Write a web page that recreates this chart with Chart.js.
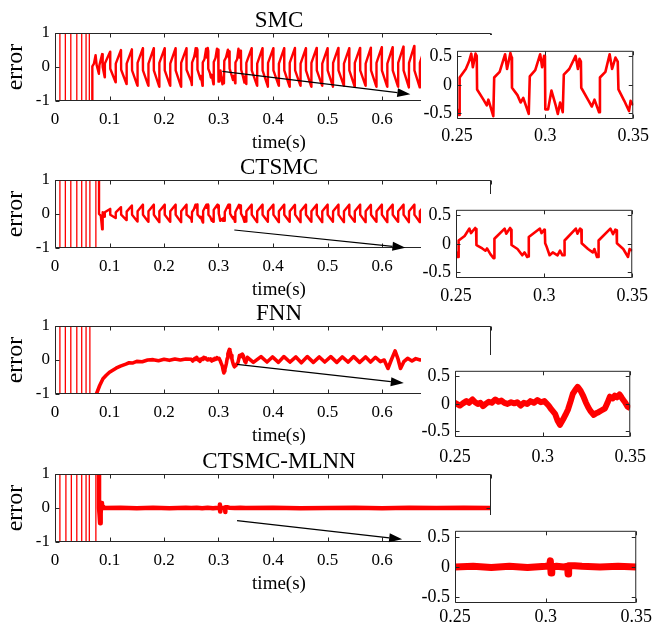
<!DOCTYPE html>
<html>
<head>
<meta charset="utf-8">
<script src="https://cdn.jsdelivr.net/npm/chart.js@4.4.0/dist/chart.umd.min.js"></script>
<style>
  html, body { margin: 0; padding: 0; background: #fff; overflow: hidden; }
  #fig { position: relative; width: 655px; height: 627px; }
  #fig canvas { position: absolute; }
  #fig canvas.zoom { background: #fff; }
</style>
</head>
<body>
<div id="fig"></div>
<script>
// start-up chatter runs far outside the +/-1 band and gets clipped
const SAT = 20;

const titles = ['SMC', 'CTSMC', 'FNN', 'CTSMC-MLNN'];
const mainXTicks = [0, 0.1, 0.2, 0.3, 0.4, 0.5, 0.6, 0.7, 0.8];
const mainYTicks = [-1, 0, 1];
const zoomXTicks = [0.25, 0.3, 0.35];
const zoomYTicks = [-0.5, 0, 0.5];

// [time (s), error]
const smcErr = [
  [0, 0], [0, SAT], [0.009, SAT], [0.009, -SAT], [0.019, -SAT], [0.019, SAT], [0.029, SAT], [0.029, -SAT],
  [0.040, -SAT], [0.040, SAT], [0.049, SAT], [0.049, -SAT], [0.057, -SAT], [0.057, SAT], [0.063, SAT], [0.063, -SAT],
  [0.068, -SAT], [0.0685, 0.02], [0.0715, 0.1], [0.0745, 0.35], [0.0765, 0.05], [0.0805, -0.2], [0.0815, 0.05],
  [0.0865, 0.38], [0.0875, 0.0], [0.0912, -0.3],
  [0.0915, 0.1], [0.1011, 0.45], [0.1014, -0.05], [0.1112, -0.45],
  [0.1115, 0.1], [0.1211, 0.5], [0.1214, -0.08], [0.1312, -0.5],
  [0.1315, 0.1], [0.1411, 0.52], [0.1414, -0.1], [0.1512, -0.55],
  [0.1515, 0.12], [0.1611, 0.55], [0.1614, -0.1], [0.1712, -0.55],
  [0.1715, 0.1], [0.1811, 0.55], [0.1814, -0.1], [0.1912, -0.58],
  [0.1915, 0.12], [0.2011, 0.55], [0.2014, -0.1], [0.2112, -0.55],
  [0.2115, 0.1], [0.2211, 0.55], [0.2214, -0.1], [0.2312, -0.58],
  [0.2315, 0.12], [0.2411, 0.55], [0.2414, -0.08],
  [0.25, -0.43], [0.2509, -0.53], [0.2513, -0.53], [0.2515, 0.13], [0.2550, 0.28], [0.2568, 0.41], [0.2581, 0.55],
  [0.2590, 0.31], [0.2605, 0.55], [0.2612, 0.51], [0.2614, -0.08], [0.2650, -0.26], [0.2669, -0.36], [0.2678, -0.26],
  [0.2706, -0.55], [0.2711, 0.13], [0.2742, 0.23], [0.2773, 0.54], [0.2784, 0.28], [0.2803, 0.56], [0.2810, 0.48],
  [0.2812, -0.05], [0.2843, -0.18], [0.2861, -0.31], [0.2876, -0.23], [0.2907, -0.51], [0.2913, 0.15], [0.2944, 0.26],
  [0.2972, 0.54], [0.2983, 0.31], [0.2994, 0.51], [0.2999, 0.48], [0.3001, -0.43], [0.3017, -0.43], [0.3036, -0.10],
  [0.3060, -0.36], [0.3072, -0.51], [0.3085, -0.31], [0.3100, -0.48], [0.3106, 0.18], [0.3137, 0.28], [0.3173, 0.51],
  [0.3186, 0.28], [0.3195, 0.46], [0.3203, 0.41], [0.3205, -0.05], [0.3247, -0.28], [0.3265, -0.38], [0.3280, -0.26],
  [0.3306, -0.48], [0.3311, 0.13], [0.3342, 0.23], [0.3366, 0.54], [0.3380, 0.28], [0.3399, 0.48], [0.3412, 0.41],
  [0.3416, -0.08], [0.3449, -0.28], [0.3476, -0.46], [0.3485, -0.28], [0.3500, -0.36],
  [0.3508, -0.5], [0.3511, 0.12], [0.3607, 0.55], [0.3610, -0.1],
  [0.3707, -0.55], [0.3710, 0.1], [0.3806, 0.55], [0.3809, -0.1],
  [0.3906, -0.58], [0.3909, 0.12], [0.4005, 0.55], [0.4008, -0.1],
  [0.4105, -0.55], [0.4108, 0.1], [0.4204, 0.55], [0.4207, -0.1],
  [0.4304, -0.58], [0.4307, 0.12], [0.4403, 0.56], [0.4406, -0.1],
  [0.4503, -0.55], [0.4506, 0.1], [0.4602, 0.55], [0.4605, -0.1],
  [0.4702, -0.58], [0.4705, 0.12], [0.4801, 0.56], [0.4804, -0.1],
  [0.4901, -0.55], [0.4904, 0.1], [0.5000, 0.55], [0.5003, -0.1],
  [0.5100, -0.58], [0.5103, 0.12], [0.5199, 0.56], [0.5202, -0.1],
  [0.5299, -0.55], [0.5302, 0.1], [0.5398, 0.55], [0.5401, -0.1],
  [0.5498, -0.58], [0.5501, 0.12], [0.5597, 0.56], [0.5600, -0.1],
  [0.5697, -0.55], [0.5700, 0.1], [0.5796, 0.57], [0.5799, -0.1],
  [0.5896, -0.58], [0.5899, 0.12], [0.5995, 0.58], [0.5998, -0.1],
  [0.6095, -0.58], [0.6098, 0.1], [0.6194, 0.58], [0.6197, -0.1],
  [0.6294, -0.58], [0.6297, 0.12], [0.6393, 0.6], [0.6396, -0.1],
  [0.6493, -0.6], [0.6496, 0.12], [0.6592, 0.62], [0.6595, -0.1],
  [0.6692, -0.6], [0.6695, 0.12], [0.6791, 0.6], [0.6794, -0.1], [0.689, -0.58]
];

const ctsmcErr = [
  [0, 0], [0, SAT], [0.009, SAT], [0.009, -SAT], [0.019, -SAT], [0.019, SAT], [0.029, SAT], [0.029, -SAT],
  [0.040, -SAT], [0.040, SAT], [0.049, SAT], [0.049, -SAT], [0.057, -SAT], [0.057, SAT], [0.064, SAT], [0.064, -SAT],
  [0.075, -SAT], [0.075, SAT], [0.0805, SAT], [0.0808, 0.0], [0.084, -0.05], [0.0865, -0.45], [0.0875, 0.05],
  [0.0900, 0.02], [0.0912, -0.08],
  [0.0915, 0.05], [0.1011, 0.15], [0.1014, -0.02], [0.1112, -0.12],
  [0.1115, 0.05], [0.1211, 0.2], [0.1214, -0.02], [0.1312, -0.18],
  [0.1315, 0.07], [0.1411, 0.25], [0.1414, -0.02], [0.1512, -0.22],
  [0.1515, 0.08], [0.1611, 0.27], [0.1614, -0.02], [0.1712, -0.23],
  [0.1715, 0.08], [0.1811, 0.27], [0.1814, -0.02], [0.1912, -0.24],
  [0.1915, 0.08], [0.2011, 0.27], [0.2014, -0.02], [0.2112, -0.23],
  [0.2115, 0.08], [0.2211, 0.27], [0.2214, -0.02], [0.2312, -0.24],
  [0.2315, 0.08], [0.2411, 0.27], [0.2414, -0.02],
  [0.25, -0.14], [0.2507, -0.23], [0.2513, -0.23], [0.2515, 0.06], [0.2549, 0.14], [0.2576, 0.27], [0.2585, 0.19],
  [0.2609, 0.28], [0.2614, 0.26], [0.2616, -0.02], [0.2649, -0.08], [0.2667, -0.12], [0.2676, -0.08], [0.2695, -0.18],
  [0.2713, -0.25], [0.2716, -0.25], [0.2718, 0.09], [0.2776, 0.27], [0.2785, 0.18], [0.2807, 0.28], [0.2813, 0.25],
  [0.2815, -0.02], [0.2849, -0.09], [0.2876, -0.2], [0.2889, -0.15], [0.2904, -0.23], [0.2911, -0.22], [0.2913, 0.12],
  [0.2976, 0.27], [0.2985, 0.19], [0.3000, 0.25], [0.3004, 0.24], [0.3006, 0.01], [0.3013, -0.04], [0.3031, -0.2],
  [0.3049, -0.15], [0.3076, -0.2], [0.3090, -0.12], [0.3104, -0.2], [0.3114, -0.2], [0.3116, 0.06], [0.3180, 0.27],
  [0.3189, 0.18], [0.3204, 0.27], [0.3211, 0.25], [0.3213, 0.01], [0.3249, -0.09], [0.3276, -0.15], [0.3285, -0.09],
  [0.3300, -0.23], [0.3307, -0.23], [0.3309, 0.06], [0.3376, 0.27], [0.3391, 0.17], [0.3404, 0.25], [0.3411, 0.24],
  [0.3413, 0.01], [0.3449, -0.09], [0.3476, -0.23], [0.3485, -0.09], [0.3500, -0.12],
  [0.3508, -0.22], [0.3511, 0.08], [0.3607, 0.27], [0.3610, -0.02],
  [0.3707, -0.24], [0.3710, 0.08], [0.3806, 0.27], [0.3809, -0.02],
  [0.3906, -0.23], [0.3909, 0.08], [0.4005, 0.27], [0.4008, -0.02],
  [0.4105, -0.24], [0.4108, 0.08], [0.4204, 0.27], [0.4207, -0.02],
  [0.4304, -0.23], [0.4307, 0.08], [0.4403, 0.27], [0.4406, -0.02],
  [0.4503, -0.24], [0.4506, 0.08], [0.4602, 0.27], [0.4605, -0.02],
  [0.4702, -0.23], [0.4705, 0.08], [0.4801, 0.27], [0.4804, -0.02],
  [0.4901, -0.24], [0.4904, 0.08], [0.5000, 0.27], [0.5003, -0.02],
  [0.5100, -0.23], [0.5103, 0.08], [0.5199, 0.27], [0.5202, -0.02],
  [0.5299, -0.24], [0.5302, 0.08], [0.5398, 0.27], [0.5401, -0.02],
  [0.5498, -0.23], [0.5501, 0.08], [0.5597, 0.27], [0.5600, -0.02],
  [0.5697, -0.24], [0.5700, 0.08], [0.5796, 0.27], [0.5799, -0.02],
  [0.5896, -0.23], [0.5899, 0.08], [0.5995, 0.27], [0.5998, -0.02],
  [0.6095, -0.24], [0.6098, 0.08], [0.6194, 0.27], [0.6197, -0.02],
  [0.6294, -0.23], [0.6297, 0.08], [0.6393, 0.27], [0.6396, -0.02],
  [0.6493, -0.24], [0.6496, 0.08], [0.6592, 0.27], [0.6595, -0.02],
  [0.6692, -0.24], [0.6695, 0.08], [0.6791, 0.27], [0.6794, -0.02], [0.689, -0.24]
];

const fnnErr = [
  [0, 0], [0, SAT], [0.009, SAT], [0.009, -SAT], [0.019, -SAT], [0.019, SAT], [0.029, SAT], [0.029, -SAT],
  [0.040, -SAT], [0.040, SAT], [0.049, SAT], [0.049, -SAT], [0.057, -SAT], [0.057, SAT], [0.064, SAT], [0.064, -SAT],
  [0.072, -2.5], [0.076, -1.0], [0.082, -0.75], [0.088, -0.55], [0.094, -0.45], [0.100, -0.36], [0.106, -0.3],
  [0.112, -0.24], [0.120, -0.18], [0.130, -0.12], [0.136, -0.08], [0.142, -0.09], [0.150, -0.04], [0.160, -0.05],
  [0.170, 0.0], [0.180, 0.01], [0.190, -0.02], [0.200, 0.02], [0.210, -0.01], [0.220, 0.03], [0.230, 0.0], [0.240, 0.03],
  [0.250, 0.02], [0.2528, -0.03], [0.2545, 0.01], [0.2565, 0.05], [0.2580, 0.02], [0.2600, 0.08], [0.2615, 0.03],
  [0.2630, 0.0], [0.2645, 0.02], [0.2660, -0.04], [0.2675, 0.0], [0.2693, 0.04], [0.2710, 0.02], [0.2730, 0.08],
  [0.2748, 0.04], [0.2765, 0.06], [0.2782, 0.02], [0.2800, 0.0], [0.2820, 0.03], [0.2838, 0.01], [0.2855, 0.03],
  [0.2875, -0.03], [0.2893, 0.02], [0.2912, 0.0], [0.2930, 0.05], [0.2950, 0.02], [0.2970, 0.07], [0.2990, 0.03],
  [0.3010, 0.05], [0.3034, -0.03], [0.3050, -0.1], [0.3071, -0.18], [0.3085, -0.3], [0.3099, -0.38], [0.3108, -0.33],
  [0.3117, -0.28], [0.3130, -0.2], [0.3145, -0.1], [0.3160, 0.05], [0.3172, 0.18], [0.3186, 0.25], [0.3200, 0.31],
  [0.3210, 0.27], [0.3218, 0.23], [0.3232, 0.14], [0.3246, 0.03], [0.3260, -0.06], [0.3273, -0.13], [0.3292, -0.2],
  [0.3305, -0.17], [0.3319, -0.15], [0.3335, -0.12], [0.3356, -0.08], [0.3370, 0.02], [0.3384, 0.13], [0.3400, 0.1],
  [0.3412, 0.15], [0.3425, 0.12], [0.3439, 0.17], [0.3450, 0.12], [0.3458, 0.08], [0.3470, 0.03], [0.3485, -0.05],
  [0.3500, -0.08],
  [0.353, 0.08], [0.364, -0.07], [0.378, 0.1], [0.389, -0.06], [0.399, 0.09], [0.410, -0.07], [0.420, 0.1],
  [0.431, -0.06], [0.442, 0.09], [0.452, -0.08], [0.463, 0.1], [0.474, -0.07], [0.485, 0.09], [0.495, -0.06],
  [0.506, 0.1], [0.517, -0.07], [0.527, 0.09], [0.538, -0.06], [0.548, 0.1], [0.559, -0.07], [0.570, 0.09],
  [0.579, -0.06], [0.588, 0.08], [0.597, -0.05], [0.604, 0.0], [0.611, -0.25], [0.617, 0.0], [0.624, 0.27],
  [0.629, 0.05], [0.634, -0.25], [0.640, -0.05], [0.647, 0.05], [0.655, -0.03], [0.662, 0.04], [0.670, 0.0], [0.680, 0.02]
];

const mlnnErr = [
  [0, 0], [0, SAT], [0.009, SAT], [0.009, -SAT], [0.020, -SAT], [0.020, SAT], [0.030, SAT], [0.030, -SAT],
  [0.040, -SAT], [0.040, SAT], [0.049, SAT], [0.049, -SAT], [0.057, -SAT], [0.057, SAT], [0.063, SAT], [0.063, -SAT],
  [0.075, -SAT], [0.075, SAT], [0.0805, SAT], [0.0808, 0.0], [0.0818, -0.2], [0.0828, -0.45], [0.0838, -0.15],
  [0.0850, 0.15], [0.0862, 0.02], [0.0880, 0.05], [0.0900, 0.0], [0.1200, 0.01], [0.1500, -0.01], [0.1800, 0.01],
  [0.2100, -0.01], [0.2400, 0.01], [0.2500, 0.0], [0.2600, 0.01], [0.2700, -0.01], [0.2800, 0.01], [0.2900, -0.01],
  [0.3000, 0.01], [0.3022, 0.02], [0.3026, 0.1], [0.3030, -0.1], [0.3034, 0.0], [0.3060, 0.01], [0.3100, 0.0],
  [0.3121, 0.01], [0.3124, -0.12], [0.3127, 0.02], [0.3160, 0.02], [0.3200, 0.01], [0.3300, 0.0], [0.3400, 0.01],
  [0.3500, 0.0], [0.4000, 0.01], [0.4500, -0.01], [0.5000, 0.0], [0.5500, 0.01], [0.6000, -0.01], [0.6500, 0.01],
  [0.7000, 0.0], [0.7500, 0.01], [0.8000, 0.0]
];

const series = [smcErr, ctsmcErr, fnnErr, mlnnErr];
// chatter ends here; earlier segments are drawn as thin lines
const chatterEnd = [0.068, 0.0805, 0.065, 0.0805];
// zoom arrows, in (time, error) of each main panel
const arrows = [
  { from: [0.307, -0.13], to: [0.652, -0.8] },
  { from: [0.329, -0.47], to: [0.643, -0.99] },
  { from: [0.334, -0.13], to: [0.640, -0.68] },
  { from: [0.334, -0.37], to: [0.637, -0.92] }
];

const FONT = "'Liberation Serif', 'Times New Roman', serif";
const RED = '#ff0000';
const AXIS = '#262626';

// panel geometry (px)
const mainTop = [0, 147, 293, 441];
const mainWidth = [2.4, 2.4, 3.6, 4.5];
const zoomBoxes = [
  { top: 43, h: 76, left: 457, right: 639, labelPad: 6 },
  { top: 202, h: 76, left: 456, right: 639, labelPad: 7 },
  { top: 363, h: 74, left: 455, right: 637, labelPad: 9 },
  { top: 523, h: 80, left: 455, right: 639, labelPad: 3 }
];
const zoomWidth = [2.6, 2.6, 6, 7];

const fig = document.getElementById('fig');
function addCanvas(left, top, w, h, cls) {
  const cv = document.createElement('canvas');
  cv.width = w; cv.height = h;
  cv.style.left = left + 'px'; cv.style.top = top + 'px';
  cv.style.width = w + 'px'; cv.style.height = h + 'px';
  if (cls) cv.className = cls;
  fig.appendChild(cv);
  return cv;
}

// MATLAB style box with inward tick marks
const boxAxes = {
  id: 'boxAxes',
  afterDatasetsDraw(chart) {
    const { ctx, chartArea: a, scales: { x, y } } = chart;
    const L = a.left + 0.5, R = a.right - 0.5, T = a.top + 0.5, B = a.bottom - 0.5;
    ctx.save();
    ctx.strokeStyle = AXIS;
    ctx.lineWidth = 1;
    ctx.beginPath();
    ctx.rect(L, T, R - L, B - T);
    for (const t of x.ticks) {
      const p = Math.round(x.getPixelForValue(t.value)) + 0.5;
      ctx.moveTo(p, B); ctx.lineTo(p, B - 4);
      ctx.moveTo(p, T); ctx.lineTo(p, T + 4);
    }
    for (const t of y.ticks) {
      const p = Math.round(y.getPixelForValue(t.value)) + 0.5;
      ctx.moveTo(L, p); ctx.lineTo(L + 4, p);
      ctx.moveTo(R, p); ctx.lineTo(R - 4, p);
    }
    ctx.stroke();
    ctx.restore();
  }
};

const arrow = {
  id: 'arrow',
  afterDraw(chart, args, opts) {
    if (!opts.from) return;
    const { ctx, scales: { x, y } } = chart;
    const x0 = x.getPixelForValue(opts.from[0]), y0 = y.getPixelForValue(opts.from[1]);
    const x1 = x.getPixelForValue(opts.to[0]), y1 = y.getPixelForValue(opts.to[1]);
    const ang = Math.atan2(y1 - y0, x1 - x0);
    const len = 13, half = 4.5;
    const bx = x1 - len * Math.cos(ang), by = y1 - len * Math.sin(ang);
    ctx.save();
    ctx.strokeStyle = '#000';
    ctx.fillStyle = '#000';
    ctx.lineWidth = 1.2;
    ctx.beginPath();
    ctx.moveTo(x0, y0);
    ctx.lineTo(bx, by);
    ctx.stroke();
    ctx.beginPath();
    ctx.moveTo(x1, y1);
    ctx.lineTo(bx + half * Math.sin(ang), by - half * Math.cos(ang));
    ctx.lineTo(bx - half * Math.sin(ang), by + half * Math.cos(ang));
    ctx.closePath();
    ctx.fill();
    ctx.restore();
  }
};

const tickFont = size => ({ family: FONT, size: size, weight: 'normal', lineHeight: 1.2 });
const noGrid = { display: false, drawTicks: false, tickLength: 0 };
const toPoints = arr => arr.map(([t, e]) => ({ x: t, y: e }));

function mainChart(i) {
  const cv = addCanvas(0, mainTop[i], 558, 158, '');
  return new Chart(cv, {
    type: 'line',
    data: {
      datasets: [{
        data: toPoints(series[i]),
        borderColor: RED,
        borderWidth: mainWidth[i],
        borderJoinStyle: 'round',
        pointRadius: 0,
        tension: 0,
        clip: 0,
        segment: { borderWidth: c => (c.p0.parsed.x < chatterEnd[i] ? 1.3 : undefined) }
      }]
    },
    options: {
      responsive: false,
      animation: false,
      devicePixelRatio: 1,
      events: [],
      layout: { padding: 0 },
      plugins: {
        legend: { display: false },
        tooltip: { enabled: false },
        title: {
          display: true, text: titles[i], color: '#000',
          font: { family: FONT, size: 23, weight: 'normal', lineHeight: 1 },
          padding: { top: 9, bottom: 1 }
        },
        subtitle: {
          display: true, position: 'bottom', text: 'time(s)', color: '#000',
          font: { family: FONT, size: 19, weight: 'normal', lineHeight: 1 },
          padding: { top: 7, bottom: 5 }
        },
        arrow: arrows[i]
      },
      scales: {
        x: {
          type: 'linear', min: 0, max: 0.8,
          afterBuildTicks: s => { s.ticks = mainXTicks.map(v => ({ value: v })); },
          afterFit: s => { s.height = 26; },
          grid: noGrid, border: { display: false },
          ticks: { color: '#000', font: tickFont(17), padding: 8, maxRotation: 0, autoSkip: false, callback: v => String(v) }
        },
        y: {
          type: 'linear', min: -1, max: 1,
          afterBuildTicks: s => { s.ticks = mainYTicks.map(v => ({ value: v })); },
          afterFit: s => { s.width = 55; },
          grid: noGrid, border: { display: false },
          title: {
            display: true, text: 'error', color: '#000',
            font: { family: FONT, size: 24, weight: 'normal', lineHeight: 1 },
            padding: { top: 4, bottom: 0 }
          },
          ticks: { color: '#000', font: tickFont(17), padding: 5, callback: v => String(v) }
        },
        // empty right axis keeps the plot box narrower than the title row
        yr: {
          type: 'linear', position: 'right',
          afterFit: s => { s.width = 67; },
          grid: { display: false }, border: { display: false }, ticks: { display: false }
        }
      }
    },
    plugins: [boxAxes, arrow]
  });
}

function zoomChart(i) {
  const z = zoomBoxes[i];
  const cv = addCanvas(421, z.top - 8, 234, 8 + z.h + 28, 'zoom');
  return new Chart(cv, {
    type: 'line',
    data: {
      datasets: [{
        data: toPoints(series[i]),
        borderColor: RED,
        borderWidth: zoomWidth[i],
        borderJoinStyle: 'round',
        pointRadius: 0,
        tension: 0,
        clip: 0
      }]
    },
    options: {
      responsive: false,
      animation: false,
      devicePixelRatio: 1,
      events: [],
      layout: { padding: { top: 8, right: 655 - z.right, left: 0, bottom: 0 } },
      plugins: { legend: { display: false }, tooltip: { enabled: false } },
      scales: {
        x: {
          type: 'linear', min: 0.25, max: 0.35,
          afterBuildTicks: s => { s.ticks = zoomXTicks.map(v => ({ value: v })); },
          afterFit: s => { s.height = 28; },
          grid: noGrid, border: { display: false },
          ticks: { color: '#000', font: tickFont(18), padding: z.labelPad, maxRotation: 0, autoSkip: false, callback: v => String(v) }
        },
        y: {
          type: 'linear', min: -0.6, max: 0.6,
          afterBuildTicks: s => { s.ticks = zoomYTicks.map(v => ({ value: v })); },
          afterFit: s => { s.width = z.left - 421; },
          grid: noGrid, border: { display: false },
          ticks: { color: '#000', font: tickFont(18), padding: 5, callback: v => String(v) }
        }
      }
    },
    plugins: [boxAxes]
  });
}

for (let i = 0; i < 4; i++) mainChart(i);
for (let i = 0; i < 4; i++) zoomChart(i);
</script>
</body>
</html>
